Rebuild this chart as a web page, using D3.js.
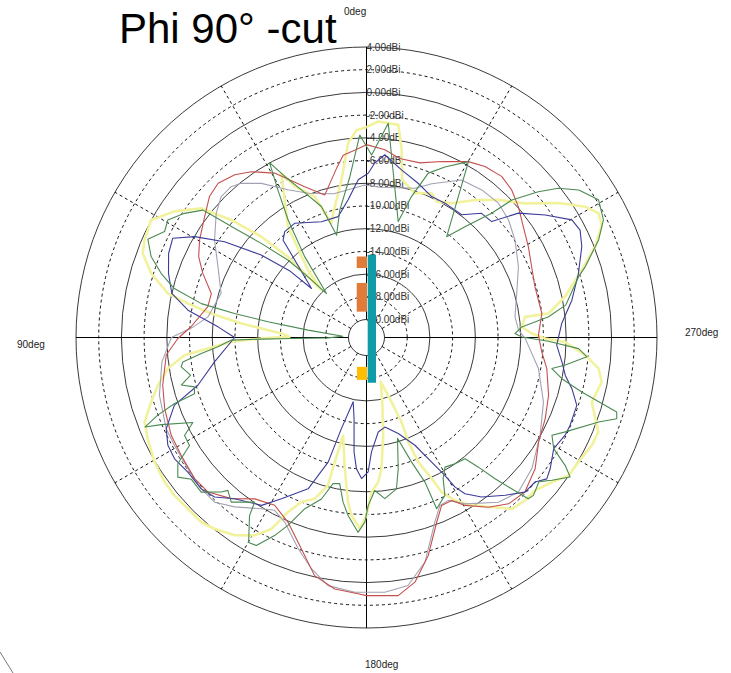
<!DOCTYPE html>
<html><head><meta charset="utf-8">
<script src="https://cdn.jsdelivr.net/npm/d3@7"></script>
<style>html,body{margin:0;padding:0;background:#fff;}svg{display:block;}</style>
</head><body>
<script>
// ---- data: [angle (deg, counter-clockwise from top), gain (dBi)] ----
const ringValues = [4,2,0,-2,-4,-6,-8,-10,-12,-14,-16,-18,-20];
const ringLabels = ["4.00dBi","2.00dBi","0.00dBi","-2.00dBi","-4.00dB","-6.00dB","-8.00dBi","-10.00dBi","-12.00dBi","-14.00dBi","-16.00dBi","-18.00dBi","-20.00dBi"];
const spokeAngles = [0,30,60,90,120,150,180,210,240,270,300,330];
const angleLabels = ["0deg","90deg","180deg","270deg"];

const redSeries = [[0,-4.6],[3.1,-5.0],[7.3,-5.4],[9.9,-6.4],[16.3,-8.5],[22.3,-7.24],[29.2,-5.0],[34.8,-3.8],[39,-3.15],[43.9,-2.74],[48.1,-3.0],[53.3,-3.8],[59.7,-4.56],[64.3,-5.18],[68.6,-6.1],[74.2,-7.38],[79,-7.35],[86.5,-6.1],[90.3,-4.97],[95,-3.88],[103.2,-3.15],[109.4,-2.74],[116.6,-2.35],[122.5,-2.24],[129.4,-2.0],[134.3,-2.1],[140,-3.06],[145.3,-4.3],[151.3,-4.74],[157,-3.9],[162.9,-2.1],[167.7,-0.12],[172.8,0.74],[178.1,1.0],[180,1.15],[187,1.32],[191.2,0.38],[195.8,-1.62],[200.8,-4.18],[204.1,-5.38],[207.6,-5.38],[210.4,-4.44],[215.7,-3.18],[220.5,-2.32],[225.7,-2.1],[232.1,-2.76],[238.7,-3.85],[245.6,-4.3],[252.4,-4.76],[260.2,-5.47],[265.3,-6.1],[270.8,-6.44],[277.8,-6.0],[286.8,-6.09],[293.2,-5.76],[299.3,-5.24],[305.2,-4.68],[310.7,-3.94],[315.5,-3.35],[320,-3.06],[325.3,-3.26],[329.9,-3.68],[336.9,-4.74],[343,-5.5],[349.5,-5.55],[354.4,-4.97],[360,-4.6]];

const graySeries = [[0.6,-8.15],[12.8,-8.6],[22,-7.88],[28,-6.85],[34.3,-5.15],[39.1,-4.09],[41.9,-3.74],[45.9,-3.76],[50.4,-4.41],[57.3,-5.68],[64.5,-7.09],[73.1,-8.2],[82.6,-7.5],[86.5,-6.3],[90,-4.4],[96.8,-3.44],[105.6,-2.65],[114.5,-2.2],[119.3,-2.18],[126.3,-2.06],[132.5,-1.85],[137.3,-1.85],[142.1,-2.68],[148.4,-3.88],[152,-4.35],[156.1,-3.8],[162.1,-2.03],[166.6,-0.65],[171.2,0.53],[177.4,0.88],[184.1,0.91],[189.5,0.56],[194.6,-1.15],[200.3,-4.24],[203.6,-5.44],[206.7,-5.53],[210.6,-4.56],[218.7,-3.0],[224.5,-2.5],[231.6,-3.0],[240.6,-4.03],[250,-5.0],[259.8,-6.2],[269.6,-7.6],[272.8,-8.18],[278,-8.38],[286.3,-7.8],[295,-6.82],[303.3,-5.94],[309.6,-5.35],[315.5,-5.0],[322,-5.09],[328.9,-5.38],[337,-6.88],[342,-7.76],[355,-8.3],[360.6,-8.15]];

const navySeries = [[359.4,-7.12],[363,-7.68],[367.6,-9.35],[373.2,-10.65],[381.3,-10.65],[392.2,-9.7],[397.7,-9.8],[400.6,-10.3],[408.3,-15.1],[409,-12.7],[411.9,-9.8],[416,-6.5],[419.6,-4.03],[422.9,-2.41],[427,-2.65],[432.1,-3.26],[437.2,-4.0],[441.3,-5.68],[445.9,-8.47],[450,-9.97],[459.1,-8.03],[465.8,-6.15],[469.4,-3.65],[474.5,-2.2],[478.5,-1.68],[482.3,-1.59],[487,-1.88],[492.5,-1.85],[496.4,-2.18],[500.7,-3.24],[508,-4.15],[512.2,-5.53],[518.9,-7.3],[522.9,-10.1],[524.6,-13.26],[528.3,-15.8],[531.3,-14.35],[533.8,-11.44],[535.6,-10.0],[538,-9.15],[540.7,-9.74],[542.5,-11.5],[547.1,-13.2],[551.6,-13.53],[558.3,-12.68],[564.2,-11.18],[567.6,-9.2],[569.6,-7.62],[570.6,-6.3],[572.2,-5.32],[575.8,-4.26],[581.3,-3.09],[585.7,-2.09],[589.4,-2.03],[591.9,-1.41],[594.5,-1.71],[599.3,-2.41],[603.8,-2.09],[606.7,-2.06],[612.1,-2.12],[616,-2.94],[619.2,-3.76],[622.9,-4.24],[627.7,-4.82],[634.1,-4.35],[640.3,-3.2],[646.8,-2.09],[652.9,-1.0],[656.7,-0.53],[659.8,-0.74],[664.4,-2.5],[669.3,-4.29],[672.8,-6.56],[677.2,-6.68],[682.2,-7.91],[689.7,-7.88],[695.2,-7.91],[701.5,-7.26],[708.2,-6.5],[714.3,-5.41],[717.3,-6.2],[719.4,-7.12]];

const yellowSeries = [[0,-3.06],[2.8,-3.32],[5.4,-4.38],[9.0,-7.53],[15,-10.26],[17.1,-11.06],[20.2,-8.35],[25.4,-6.88],[27.4,-5.3],[35.3,-9.6],[40.9,-13.7],[43.6,-15.8],[44.2,-11.7],[46.2,-8.76],[49,-5.8],[52,-3.1],[56.7,-1.35],[61.4,0.03],[66.3,-0.24],[69.4,-0.53],[73.4,-1.79],[77.5,-3.68],[79.2,-5.56],[81.2,-7.74],[83.6,-10.5],[87.3,-14.1],[89.5,-14.8],[90.5,-12.3],[91.8,-9.7],[94,-7.6],[95.6,-5.47],[98.9,-3.88],[102.9,-2.74],[106.7,-1.79],[110.8,-0.68],[114.8,-0.35],[120.4,0.06],[125.6,0.29],[129.4,0.32],[133.8,0.21],[138.2,0.24],[141.5,-0.06],[146.3,-0.65],[150.5,-1.56],[153.6,-2.76],[155.8,-4.74],[158.4,-6.0],[162.2,-6.68],[165.4,-8.12],[165.7,-10.26],[166.6,-12.7],[170.6,-9.88],[173.6,-7.0],[175.2,-5.85],[178,-4.74],[180,-5.9],[181.9,-7.97],[184.6,-8.8],[186.5,-9.94],[189.7,-12.85],[193.7,-15.7],[197.9,-17.5],[201.2,-15.5],[202.5,-13.5],[201.8,-11.7],[202.6,-9.7],[204.8,-7.9],[205.9,-6.44],[208.5,-5.26],[212.1,-4.15],[216.4,-3.03],[220.3,-1.79],[224.2,-1.56],[227.8,-1.53],[232,-0.88],[235.7,-0.03],[239.6,0.06],[244.4,0.41],[247.8,0.47],[250.5,-0.21],[254,-0.94],[259.3,-0.5],[262.4,-0.97],[265.4,-2.26],[268.7,-4.09],[269.7,-5.85],[271.4,-7.03],[273.9,-7.88],[277.4,-7.5],[277.5,-5.41],[281.6,-3.74],[287.4,-1.71],[291.7,0.09],[295.5,1.38],[298.2,1.59],[300.9,0.85],[305,-0.94],[310.2,-3.29],[316.2,-4.79],[321.7,-6.15],[327.6,-7.59],[332.7,-8.12],[335.7,-7.65],[341.5,-8.18],[347.2,-7.35],[349.4,-4.76],[351.5,-2.65],[356.9,-2.53],[360,-3.06]];

const greenSeries = [[1.9,-3.74],[5.9,-7.35],[11.8,-10.1],[16.3,-12.2],[19,-9.38],[23.8,-7.38],[26.9,-5.68],[29,-3.97],[31,-6.44],[33.7,-9.15],[37.4,-12.62],[42.3,-16.35],[43.9,-14.2],[45.4,-11.9],[48.2,-9.15],[50.4,-6.5],[51.5,-4.5],[52.1,-3.32],[55.7,-2.18],[59.4,-1.26],[62.3,-1.5],[65.8,-0.47],[69.4,-1.32],[72.7,-2.65],[75.7,-4.12],[78.4,-6.74],[79.7,-9.76],[80.9,-12.8],[82.8,-16.4],[87,-19.5],[90.5,-18.2],[90.8,-15.0],[90.9,-12.3],[91.1,-9.68],[93.6,-8.47],[95.5,-6.97],[97.6,-5.26],[99,-5.06],[102.1,-5.74],[104.4,-4.74],[106,-5.82],[108.1,-5.65],[109,-3.71],[110.4,-1.97],[112,-0.56],[113,-1.94],[116.1,-4.56],[118.3,-3.38],[121.4,-3.32],[123.8,-1.59],[126.5,-0.91],[129,-1.74],[133.1,-1.65],[136.8,-2.91],[137.8,-3.41],[140.6,-2.82],[145.8,-4.06],[146.7,-2.82],[150.1,-0.76],[152.1,-0.85],[155.1,-2.35],[157.3,-3.65],[160.2,-5.56],[164.4,-6.82],[167.1,-8.38],[169.6,-8.5],[171.9,-6.94],[174.1,-5.82],[177.5,-4.41],[179.5,-5.32],[180.6,-6.8],[183.1,-8.09],[186.5,-7.3],[191.2,-8.0],[193.6,-9.7],[197.1,-12.3],[199.9,-9.91],[202,-7.85],[202.3,-5.29],[206.4,-6.06],[208.5,-7.44],[211.2,-8.24],[215,-8.0],[219.1,-7.82],[220.8,-6.5],[222.3,-4.76],[223.8,-3.12],[225.1,-1.47],[226.6,-1.35],[230.1,-1.79],[232.4,-0.97],[235.6,0.15],[237.2,-0.76],[239.3,-2.41],[242.2,-3.12],[244.6,-2.21],[250,0.18],[252,1.59],[253.4,1.41],[255.8,-2.03],[258.1,-4.0],[260.5,-5.03],[262.1,-3.91],[265,-2.09],[267,-2.88],[268.8,-5.56],[270.2,-7.91],[271.5,-8.5],[273.9,-7.88],[276.5,-5.44],[279.3,-3.79],[286,-2.15],[287.9,-1.35],[292.8,0.59],[296.4,1.71],[300.7,2.18],[304.8,1.18],[307.9,-0.18],[310.3,-1.74],[313.4,-3.97],[314.8,-6.06],[318.4,-8.53],[321.5,-10.24],[329.9,-3.68],[335.3,-5.06],[339.4,-6.12],[342.3,-8.56],[344.7,-11.0],[354.2,-2.62],[358.4,-5.5],[361.9,-3.74]];

const seriesList = [
  {name:"yellow", data: yellowSeries, color:"#f2f29c", width:2.6},
  {name:"gray", data: graySeries, color:"#a2a2b4", width:1.1},
  {name:"red", data: redSeries, color:"#c4504e", width:1.1},
  {name:"navy", data: navySeries, color:"#3c3c98", width:1.1},
  {name:"green", data: greenSeries, color:"#4b8a52", width:1.1}
];

// ---- drawing ----
const W = 731, H = 673;
const cx = 366.5, cy = 337.5;
const svg = d3.select("body").append("svg").attr("width", W).attr("height", H);

const r = d3.scaleLinear().domain([-20, 4]).range([18, 290.5]);
const rad = d => -d * Math.PI / 180; // counter-clockwise from top

const g = svg.append("g").attr("transform", `translate(${cx},${cy})`);

// rings
g.selectAll("circle.ring").data(ringValues).join("circle")
  .attr("class","ring")
  .attr("r", d => r(d))
  .attr("fill","none")
  .attr("stroke", d => (d % 4 === 0) ? "#3a3a3a" : "#111")
  .attr("stroke-width", 1)
  .attr("stroke-dasharray", d => (d % 4 === 0) ? null : "3,3");

// spokes
g.selectAll("line.spoke").data(spokeAngles).join("line")
  .attr("class","spoke")
  .attr("x1", d => r(-20) * Math.sin(rad(d)))
  .attr("y1", d => -r(-20) * Math.cos(rad(d)))
  .attr("x2", d => r(4) * Math.sin(rad(d)))
  .attr("y2", d => -r(4) * Math.cos(rad(d)))
  .attr("stroke", d => d % 90 === 0 ? "#000" : "#111")
  .attr("stroke-width", 1)
  .attr("stroke-dasharray", d => d % 90 === 0 ? null : "3,3");

// ring labels
g.selectAll("text.rl").data(ringValues).join("text")
  .attr("class","rl")
  .attr("x", 0)
  .attr("y", d => -r(d))
  .attr("dy","0.35em")
  .attr("font-family","Liberation Sans, Arial, sans-serif")
  .attr("font-size", 10)
  .attr("fill","#333")
  .text((d,i) => ringLabels[i]);

// series
const line = d3.lineRadial()
  .angle(d => rad(d[0]))
  .radius(d => r(d[1]))
  .curve(d3.curveLinear);

g.selectAll("path.series").data(seriesList).join("path")
  .attr("class","series")
  .attr("d", s => line(s.data))
  .attr("fill","none")
  .attr("stroke", s => s.color)
  .attr("stroke-width", s => s.width)
  .attr("stroke-linejoin","round");

// overlay marker bars (legend artifacts in the centre)
const bars = [
  {x:1.2, w:8.3, y0:r(-14.3), y1:-r(-17.6), color:"#0f9ca6"},
  {x:-9.8, w:10.3, y0:r(-14.45), y1:r(-15.47), color:"#e07b3a"},
  {x:-9.8, w:10.3, y0:r(-16.78), y1:r(-19.31), color:"#e07b3a"},
  {x:-9.5, w:10, y0:-r(-19.0), y1:-r(-17.85), color:"#ffbf00"}
];
g.selectAll("rect.bar").data(bars).join("rect")
  .attr("x", d => d.x).attr("width", d => d.w)
  .attr("y", d => -d.y0).attr("height", d => d.y0 - d.y1)
  .attr("fill", d => d.color);

// angle labels
const lab = [
  {t:angleLabels[0], x:344, y:15},
  {t:angleLabels[1], x:17, y:348},
  {t:angleLabels[2], x:365, y:668},
  {t:angleLabels[3], x:685, y:336}
];
svg.selectAll("text.al").data(lab).join("text")
  .attr("class","al")
  .attr("x", d => d.x).attr("y", d => d.y)
  .attr("font-family","Liberation Sans, Arial, sans-serif")
  .attr("font-size", 10)
  .attr("fill","#222")
  .text(d => d.t);

// title
svg.append("text")
  .attr("x", 119).attr("y", 43)
  .attr("font-family","Liberation Sans, Arial, sans-serif")
  .attr("font-size", 42)
  .attr("fill","#000")
  .text("Phi 90° -cut");

// stray corner stroke
svg.append("line").attr("x1",0).attr("y1",652).attr("x2",13).attr("y2",673)
  .attr("stroke","#777").attr("stroke-width",1);
</script>
</body></html>
